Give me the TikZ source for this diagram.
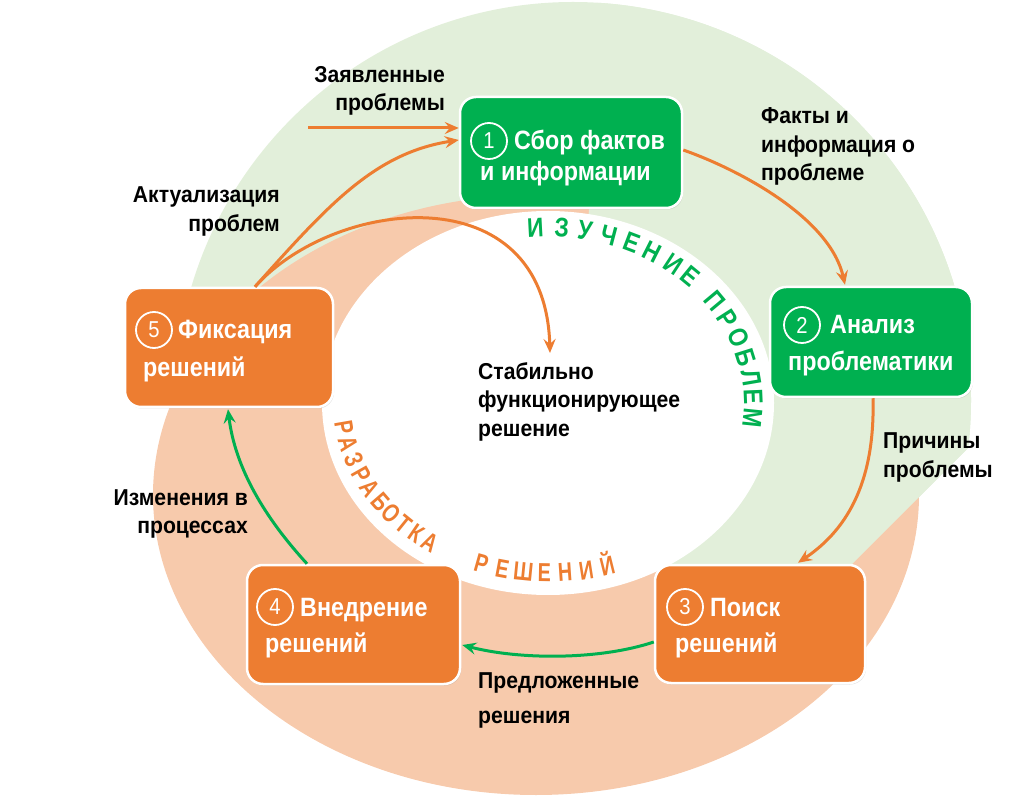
\documentclass[tikz,border=0pt]{standalone}
\usepackage{fontspec}
\setmainfont{Liberation Sans}
\newfontfamily\boxfont{Liberation Sans}[FakeStretch=0.88]
\newfontfamily\lblfont{Liberation Sans}[FakeStretch=0.92]
\newfontfamily\garcfont{Liberation Sans}[FakeStretch=0.85]
\newfontfamily\oarcfont{Liberation Sans}[FakeStretch=0.76]
\usetikzlibrary{calc,arrows.meta,shadows}
\definecolor{gboxc}{RGB}{0,176,80}
\definecolor{oboxc}{RGB}{237,125,49}
\definecolor{gbgc}{RGB}{226,239,218}
\definecolor{obgc}{RGB}{247,202,172}
\tikzset{
 boxbase/.style={rounded corners=16pt, draw=white, line width=2.5pt, inner sep=0pt,
   drop shadow={opacity=0.25, shadow xshift=1pt, shadow yshift=-1.5pt}},
 gbox/.style={boxbase, fill=gboxc},
 obox/.style={boxbase, fill=oboxc},
 numc/.style={circle, draw=white, line width=1.8pt, minimum size=36pt, inner sep=0pt,
   text=white, font=\boxfont\fontsize{23}{23}\selectfont},
 btxt/.style={text=white, inner sep=0pt, anchor=base west, font=\boxfont\fontsize{26.5}{26.5}\selectfont\bfseries},
 lbl/.style={text=black, inner sep=0pt, font=\lblfont\fontsize{23}{28.5}\selectfont\bfseries},
 oarr/.style={draw=oboxc, line width=3pt, -{Stealth[length=14pt,width=12pt,inset=5pt]}},
 garr/.style={draw=gboxc, line width=3pt, -{Stealth[length=14pt,width=12pt,inset=5pt]}},
 gletter/.style={text=gboxc, inner sep=0pt, anchor=base, font=\garcfont\fontsize{27}{27}\selectfont\bfseries},
 oletter/.style={text=oboxc, inner sep=0pt, anchor=base, font=\oarcfont\fontsize{26}{26}\selectfont\bfseries},
}
\begin{document}
\begin{tikzpicture}[x=1pt,y=1pt]
\useasboundingbox (0,0) rectangle (1024,798);
% background rings
\begin{scope}
 \clip (-10,900) -- (1100,900) -- (1100,482) -- (760,142) -- (662,158) -- (662,238) -- (-10,238) -- cycle;
 \fill[gbgc] (573,398) circle[radius=398pt];
\end{scope}
\fill[obgc] (536,303) ellipse[x radius=383pt, y radius=300pt];
\begin{scope}
 \clip (585,498) -- (600,848) -- (1100,848) -- (1100,482) -- (760,142) -- (662,158) -- (662,238) -- cycle;
 \fill[gbgc] (573,398) circle[radius=398pt];
\end{scope}
\fill[white] (548,395) ellipse[x radius=226pt, y radius=192pt];

% curved titles
\foreach \myl/\myang [count=\k] in {И/94.2,З/85.4,У/77.7,Ч/69.8,Е/62.1,Н/54.9,И/47.6,Е/41.2,П/30.9,Р/24.8,О/18.7,Б/12.7,Л/7.0,Е/1.7,М/-4.2}{
  \pgfmathsetmacro{\tpar}{atan2(196*sin(\myang),166*cos(\myang))}
  \pgfmathsetmacro{\rotang}{atan2(-166*cos(\tpar),196*sin(\tpar))}
  \node[gletter, rotate=\rotang] (gl\k) at ({548+196*cos(\tpar)},{395+166*sin(\tpar)}) {\myl};
}
\foreach \myl/\myang [count=\k] in {Р/186.9,А/191.7,З/196.5,Р/201.3,А/206.1,Б/211.0,О/215.8,Т/220.6,К/225.4,А/230.2,Р/247.8,Е/254.8,Ш/261.8,Е/268.8,Н/275.7,И/282.7,Й/289.7}{
  \pgfmathsetmacro{\tpar}{atan2(215*sin(\myang),179*cos(\myang))}
  \pgfmathsetmacro{\rotang}{atan2(179*cos(\tpar),-215*sin(\tpar))}
  \node[oletter, rotate=\rotang] (ol\k) at ({548+215*cos(\tpar)},{395+179*sin(\tpar)}) {\myl};
}

% boxes
\node[gbox, minimum width=222pt, minimum height=111pt] (b1) at (571,645.5) {};
\node[gbox, minimum width=202pt, minimum height=110pt] (b2) at (871,456) {};
\node[obox, minimum width=210pt, minimum height=118pt] (b3) at (760,174) {};
\node[obox, minimum width=213pt, minimum height=119pt] (b4) at (353.5,173.5) {};
\node[obox, minimum width=208pt, minimum height=119pt] (b5) at (229,450.5) {};

% box contents
\node[numc] (n1) at (489,657) {1};
\node[btxt] (t1a) at (514,648) {Сбор фактов};
\node[btxt] (t1b) at (480,617) {и информации};
\node[numc] (n2) at (802,473) {2};
\node[btxt] (t2a) at (830,464) {Анализ};
\node[btxt] (t2b) at (788,427) {проблематики};
\node[numc] (n3) at (685,191) {3};
\node[btxt] (t3a) at (710,182) {Поиск};
\node[btxt] (t3b) at (675,146) {решений};
\node[numc] (n4) at (275,191) {4};
\node[btxt] (t4a) at (300,182) {Внедрение};
\node[btxt] (t4b) at (265,146) {решений};
\node[numc] (n5) at (154,468) {5};
\node[btxt] (t5a) at (178,459) {Фиксация};
\node[btxt] (t5b) at (143,421) {решений};

% labels
\node[lbl, align=right, anchor=east] (l1) at (445,707) {Заявленные\\проблемы};
\node[lbl, align=right, anchor=east] (l2) at (280,586.5) {Актуализация\\проблем};
\node[lbl, align=left, anchor=west] (l3) at (761,651.5) {Факты и\\информация о\\проблеме};
\node[lbl, align=left, anchor=west] (l4) at (883,340.5) {Причины\\проблемы};
\node[lbl, align=right, anchor=east] (l5) at (248,284) {Изменения в\\процессах};
\node[lbl, align=left, anchor=west, font=\lblfont\fontsize{23}{35}\selectfont\bfseries] (l6) at (478,98) {Предложенные\\решения};
\node[lbl, align=left, anchor=west] (l7) at (478,396.5) {Стабильно\\функционирующее\\решение};

% connectors
\coordinate (s1) at (308,670);
\draw[oarr] (s1) -- (s1 -| b1.west);
\coordinate (s5) at ($(b5.north)+(26,0)$);
\coordinate (e3) at (550,445);
\draw[oarr] (s5) .. controls (329,594) and (375,645) .. ($(b1.west)+(0,12.5)$);
\draw[oarr] (s5) .. controls (334,600) and (545,625) .. (e3);
\draw[oarr] ($(b1.east)+(0,2.5)$) .. controls (740,628) and (830,580) .. ($(b2.north)+(-26,1)$);
\draw[oarr] ($(b2.south)+(2,0)$) .. controls (875,320) and (850,270) .. ($(b3.north)+(38,1)$);
\draw[garr] ($(b3.west)+(0,-18)$) .. controls (600,138) and (520,138) .. ($(b4.east)+(1,-20.5)$);
\draw[garr] ($(b4.north)+(-46.5,0)$) .. controls (265,280) and (235,330) .. ($(b5.south)+(-1,-1)$);
\end{tikzpicture}
\end{document}
